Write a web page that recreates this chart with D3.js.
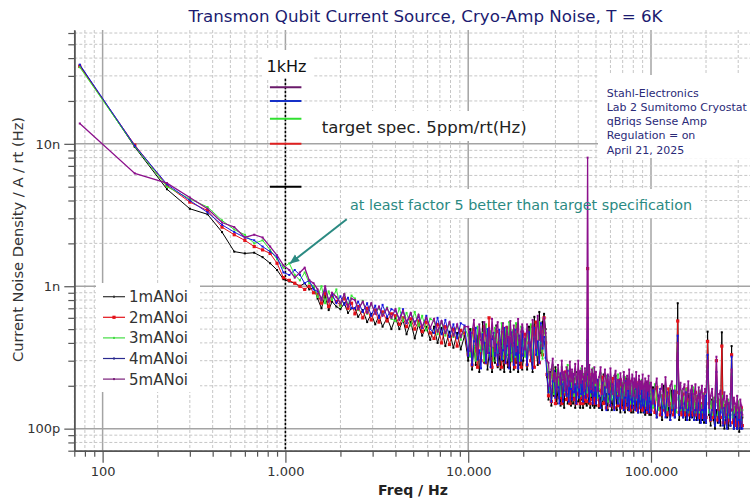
<!DOCTYPE html>
<html>
<head>
<meta charset="utf-8">
<script src="https://cdn.jsdelivr.net/npm/d3@7"></script>
<style>
  body { margin: 0; background: #fff; }
  svg { display: block; font-family: "DejaVu Sans", Verdana, sans-serif; }
</style>
</head>
<body>
<div id="chart"></div>
<script>
// frequency bins (Hz)
var freqLow = [75, 150, 225, 300, 375, 450, 525, 600, 675, 750, 825, 900, 975, 1050, 1125, 1200, 1275, 1350, 1425];
var freqMid = [1500, 1575, 1650, 1725, 1800, 1900, 2000, 2100, 2200, 2300,
  2400, 2500, 2650, 2800, 2950, 3100, 3250, 3400, 3600, 3800,
  4000, 4200, 4400, 4600, 4850, 5100, 5350, 5600, 5900, 6200,
  6500, 6800, 7150, 7500, 7900, 8300, 8700, 9100, 9550];
var freqA = [10000, 10250, 10500, 10750, 11000, 11250, 11500, 11750, 12000, 12250,
  12500, 12750, 13000, 13250, 13500, 13750, 14000, 14250, 14500, 14750,
  15000, 15250, 15500, 15750, 16000, 16250, 16500, 16750, 17000, 17250,
  17500, 17750, 18000, 18250, 18500, 18750, 19000, 19250, 19500, 19750];
var freqB = [20000, 20500, 21000, 21500, 22000, 22500, 23000, 23500, 24000, 24500,
  25000, 25500, 26000, 26500, 27000, 27500, 28000, 28500, 29000, 29500,
  30000, 30500, 31000, 31500, 32000, 32500, 33000, 33500, 34000, 34500,
  35000, 35500, 36000, 36500, 37000, 37500, 38000, 38500, 39000, 39500,
  40000, 40500, 41000, 41500, 42000, 42500, 43000, 43500, 44000, 44500,
  45000, 45500, 46000, 46500, 47000, 47500, 48000, 48500, 49000, 49500];
var freqC = [50000, 51000, 52000, 53000, 54000, 55000, 56000, 57000, 58000, 59000,
  60000, 61000, 62000, 63000, 64000, 65000, 66000, 67000, 68000, 69000,
  70000, 71000, 72000, 73000, 74000, 75000, 76000, 77000, 78000, 79000,
  80000, 81000, 82000, 83000, 84000, 85000, 86000, 87000, 88000, 89000,
  90000, 91000, 92000, 93000, 94000, 95000, 96000, 97000, 98000, 99000];
var freqD = [100000, 102500, 105000, 107500, 110000, 112500, 115000, 117500, 120000, 122500,
  125000, 127500, 130000, 132500, 135000, 137500, 140000, 142500, 145000, 147500,
  150000, 152500, 155000, 157500, 160000, 162500, 165000, 167500, 170000, 172500,
  175000, 177500, 180000, 182500, 185000, 187500, 190000, 192500, 195000, 197500];
var freqE = [200000, 204000, 208000, 212000, 216000, 220000, 224000, 228000, 232000, 236000,
  240000, 244000, 248000, 252000, 256000, 260000, 264000, 268000, 272000, 276000,
  280000, 284000, 288000, 292000, 296000, 300000, 304000, 308000, 312000, 316000];

// current noise density, pA/rt(Hz)
// 1 mA (black)
var noi1Low = [35700, 9500, 4800, 3500, 3200, 2400, 1750, 1700, 1720, 1600, 1450, 1300, 1120, 1080, 1050, 1000, 1050, 950, 980];
var noi1Mid = [820, 700, 860, 680, 780, 720, 690, 760, 650, 700,
  700, 610, 680, 560, 640, 540, 620, 520, 600, 500,
  600, 500, 580, 460, 560, 430, 540, 450, 520, 420,
  520, 400, 510, 380, 480, 370, 470, 360, 450];
var noi1A = [300, 500, 260, 380, 280, 450, 250, 340, 560, 290,
  400, 260, 330, 480, 250, 370, 290, 530, 270, 340,
  260, 420, 300, 250, 490, 330, 270, 380, 250, 460,
  320, 260, 410, 290, 540, 250, 350, 280, 420, 260];
var noi1B = [300, 420, 260, 520, 330, 250, 610, 370, 280, 660, 340, 560, 640, 500,
  230,
  160, 250, 145, 200, 170, 270, 150, 190, 230, 145,
  210, 160, 140, 240, 175, 150, 200, 260, 145, 185,
  150, 225, 140, 190, 250, 155, 170, 140, 215, 160,
  140, 240, 150, 185, 145,
  420,
  150, 195, 140, 230, 165, 145, 210, 140, 180];
var noi1C = [145, 220, 140, 165, 135, 240, 150, 175, 135, 200,
  210, 135, 160, 140, 235, 135, 180, 145, 130, 205,
  140, 180, 130, 225, 150, 135, 170, 200, 130, 160,
  130, 210, 145, 135, 180, 130, 220, 150, 130, 175,
  195, 130, 155, 125, 210, 140, 130, 185, 125, 150];
var noi1D = [125, 195, 135, 120, 170, 140, 115, 200, 130, 120,
  140, 115, 185, 135, 120, 160, 760, 115, 140, 180,
  120, 150, 115, 130, 175, 115, 140, 120, 185, 115,
  135, 115, 170, 125, 110, 150, 115, 130, 110, 160];
var noi1E = [110, 480, 125, 105, 160, 115, 100, 135, 110, 150,
  105, 475, 140, 100, 115, 155, 100, 125, 105, 380,
  125, 100, 140, 105, 100, 130, 95, 115, 100, 120];

// 2 mA (red)
var noi2Low = [35000, 9800, 5100, 3900, 3400, 2600, 2300, 2100, 1900, 1800, 1700, 1450, 1150, 1100, 1050, 1000, 950, 1000, 900];
var noi2Mid = [880, 760, 900, 720, 850, 780, 740, 820, 700, 760,
  640, 720, 600, 700, 580, 680, 560, 660, 570, 640,
  620, 540, 600, 520, 590, 500, 570, 480, 560, 470,
  430, 540, 400, 520, 390, 500, 380, 490, 470];
var noi2A = [330, 420, 280, 500, 350, 270, 460, 300, 390, 520,
  290, 360, 600, 310, 270, 440, 330, 480, 280, 400,
  350, 270, 470, 320, 290, 510, 380, 280, 430, 330,
  300, 450, 270, 360, 520, 290, 410, 330, 270, 440];
var noi2B = [330, 460, 280, 400, 300, 520, 270, 560, 350, 290, 480, 330, 600, 400,
  240,
  170, 230, 155, 260, 185, 150, 240, 200, 165, 225,
  150, 210, 175, 250, 160, 195, 230, 150, 215, 170,
  240, 160, 190, 150, 225, 175, 205, 150, 250, 165,
  150, 200, 160, 230, 155,
  1330,
  170, 215, 150, 195, 240, 160, 180, 150, 220];
var noi2C = [160, 205, 145, 185, 230, 150, 195, 140, 210, 170,
  145, 190, 225, 140, 175, 200, 145, 165, 220, 140,
  170, 205, 140, 160, 195, 145, 215, 135, 180, 150,
  195, 140, 170, 210, 135, 160, 190, 140, 175, 205,
  135, 170, 190, 140, 160, 205, 130, 175, 150, 135];
var noi2D = [135, 175, 130, 195, 150, 125, 170, 135, 185, 125,
  190, 130, 150, 125, 170, 180, 570, 130, 155, 125,
  175, 125, 145, 190, 125, 160, 130, 175, 125, 150,
  180, 125, 140, 120, 165, 125, 150, 120, 175, 130];
var noi2E = [120, 410, 150, 115, 140, 120, 155, 300, 115, 145,
  120, 380, 110, 145, 125, 110, 150, 115, 135, 330,
  110, 140, 115, 105, 145, 110, 130, 105, 140, 105];

// 3 mA (green)
var noi3Low = [34500, 9600, 5000, 4100, 3600, 2900, 2500, 2300, 2000, 2100, 1800, 1550, 1350, 1450, 1200, 1100, 1250, 1050, 1000];
var noi3Mid = [840, 1000, 760, 920, 800, 950, 720, 880, 740, 860,
  820, 680, 790, 640, 750, 650, 700, 630, 710, 590,
  570, 700, 570, 650, 530, 660, 530, 620, 490, 590,
  570, 460, 560, 450, 550, 440, 530, 420, 510];
var noi3A = [450, 320, 500, 380, 300, 520, 410, 350, 470, 300,
  540, 390, 330, 480, 360, 300, 510, 420, 340, 460,
  380, 550, 310, 440, 500, 330, 390, 560, 350, 300,
  490, 410, 320, 550, 370, 460, 300, 400, 520, 380];
var noi3B = [420, 320, 470, 360, 540, 300, 440, 380, 330, 560, 400, 310, 500, 440,
  260,
  250, 180, 230, 280, 175, 215, 260, 190, 240, 170,
  270, 205, 180, 240, 215, 280, 170, 225, 195, 250,
  210, 170, 260, 225, 185, 245, 200, 170, 265, 190,
  240, 175, 215, 255, 180,
  480,
  215, 250, 170, 230, 195, 265, 180, 220, 170];
var noi3C = [225, 165, 190, 245, 160, 210, 170, 235, 155, 200,
  230, 160, 190, 150, 215, 175, 240, 155, 195, 165,
  210, 150, 230, 180, 155, 200, 225, 150, 175, 210,
  150, 195, 220, 160, 185, 145, 210, 170, 150, 220,
  185, 150, 205, 165, 145, 195, 175, 150, 210, 160];
var noi3D = [185, 140, 205, 160, 135, 190, 150, 140, 200, 135,
  165, 190, 135, 150, 200, 130, 350, 160, 135, 185,
  165, 135, 190, 150, 130, 175, 160, 135, 195, 150,
  130, 170, 150, 130, 185, 145, 130, 175, 155, 130];
var noi3E = [160, 260, 130, 155, 125, 165, 140, 200, 125, 160,
  130, 150, 170, 120, 155, 130, 160, 120, 150, 240,
  120, 150, 125, 140, 115, 155, 125, 140, 115, 135];

// 4 mA (blue)
var noi4Low = [36000, 9700, 5200, 4000, 3300, 2700, 2400, 2200, 2100, 1900, 1750, 1600, 1250, 1200, 1300, 1200, 1050, 1100, 950];
var noi4Mid = [920, 820, 960, 800, 880, 760, 850, 740, 830, 700,
  700, 780, 660, 760, 620, 730, 600, 740, 610, 690,
  670, 590, 690, 550, 640, 560, 610, 510, 620, 500,
  470, 600, 460, 580, 440, 540, 430, 550, 530];
var noi4A = [325, 475, 280, 410, 510, 305, 355, 265, 460, 400,
  290, 500, 340, 270, 425, 470, 325, 390, 280, 495,
  415, 305, 355, 510, 290, 380, 440, 265, 340, 475,
  400, 280, 495, 330, 375, 265, 450, 400, 300, 510];
var noi4B = [325, 425, 280, 475, 355, 265, 510, 330, 410, 290, 550, 365, 440, 315,
  240,
  180, 240, 155, 215, 255, 165, 225, 195, 150, 245,
  205, 155, 235, 185, 170, 255, 155, 215, 190, 160,
  240, 180, 205, 150, 230, 195, 165, 250, 175, 215,
  155, 225, 185, 165, 240,
  600,
  200, 155, 220, 180, 210, 150, 235, 170, 195];
var noi4C = [150, 220, 170, 140, 210, 160, 195, 135, 235, 175,
  145, 205, 185, 135, 225, 165, 150, 215, 140, 190,
  200, 135, 165, 215, 145, 185, 135, 205, 160, 140,
  210, 155, 135, 190, 170, 130, 215, 155, 140, 195,
  145, 185, 130, 205, 165, 135, 190, 130, 175, 155];
var noi4D = [130, 185, 145, 120, 170, 190, 125, 160, 120, 180,
  155, 115, 135, 185, 120, 165, 450, 125, 140, 170,
  120, 150, 180, 115, 135, 165, 120, 185, 140, 115,
  135, 160, 115, 150, 175, 110, 135, 155, 115, 170];
var noi4E = [110, 330, 150, 115, 135, 155, 105, 250, 145, 110,
  130, 150, 105, 140, 120, 100, 150, 130, 105, 320,
  135, 100, 125, 140, 100, 130, 115, 100, 130, 100];

// 5 mA (purple)
var noi5Low = [13900, 6200, 5300, 4200, 3500, 2800, 2600, 2200, 2300, 2200, 1900, 1650, 1400, 1300, 1150, 1250, 1350, 1100, 1050];
var noi5Mid = [950, 800, 1000, 780, 900, 840, 760, 880, 720, 820,
  800, 690, 780, 650, 760, 640, 720, 620, 700, 600,
  690, 580, 670, 560, 650, 540, 630, 520, 600, 510,
  590, 480, 570, 470, 560, 450, 540, 440, 520];
var noi5A = [520, 350, 470, 580, 390, 330, 540, 420, 360, 560,
  450, 340, 510, 380, 590, 430, 350, 500, 560, 370,
  330, 480, 550, 400, 360, 520, 440, 340, 570, 410,
  380, 530, 460, 350, 500, 590, 420, 340, 480, 540];
var noi5B = [480, 360, 540, 400, 330, 580, 450, 370, 620, 420, 520, 380, 600, 470,
  300,
  290, 200, 260, 310, 215, 245, 190, 280, 230, 205,
  300, 220, 250, 185, 270, 235, 200, 295, 215, 260,
  190, 240, 285, 205, 225, 300, 195, 255, 210, 275,
  230, 185, 265, 215, 250,
  8000,
  200, 280, 225, 190, 260, 240, 185, 270, 210];
var noi5C = [250, 185, 230, 270, 175, 215, 260, 195, 240, 180,
  265, 200, 175, 235, 255, 185, 220, 170, 245, 205,
  180, 250, 210, 170, 235, 190, 260, 175, 215, 240,
  170, 225, 195, 250, 165, 205, 235, 175, 215, 190,
  240, 165, 200, 225, 160, 215, 185, 235, 170, 200];
var noi5D = [210, 150, 190, 225, 145, 180, 205, 150, 230, 170,
  145, 200, 215, 150, 185, 140, 400, 175, 210, 145,
  190, 205, 140, 170, 215, 145, 185, 200, 135, 175,
  205, 140, 165, 195, 135, 180, 200, 140, 170, 190];
var noi5E = [180, 300, 140, 170, 190, 130, 165, 320, 135, 175,
  185, 140, 160, 180, 125, 170, 150, 130, 175, 260,
  135, 165, 150, 125, 170, 140, 120, 160, 145, 125];

var seriesNames = ["1mANoi", "2mANoi", "3mANoi", "4mANoi", "5mANoi"];
var seriesColors = ["#000000", "#e4121a", "#33e633", "#1616e0", "#8c108c"];
var legendColors = ["#333333", "#e4121a", "#44dd44", "#2a2a90", "#7a1f7a"];
// target spec 5ppm/rt(Hz) for each current at 1 kHz, nA/rt(Hz)
var specLevels = [5, 10, 15, 20, 25];
var specColors = ["#000000", "#e02020", "#30e030", "#1530c8", "#6a1a6a"];

var xTickValues = [100, 1000, 10000, 100000];
var xTickLabels = ["100", "1.000", "10.000", "100.000"];
var yTickValues = [1e-10, 1e-9, 1e-8];
var yTickLabels = ["100p", "1n", "10n"];
var infoLines = ["Stahl-Electronics", "Lab 2 Sumitomo Cryostat", "qBriqs Sense Amp", "Regulation = on", "April 21, 2025"];

var freqs = freqLow.concat(freqMid, freqA, freqB, freqC, freqD, freqE);
var seriesValues = [
  noi1Low.concat(noi1Mid, noi1A, noi1B, noi1C, noi1D, noi1E),
  noi2Low.concat(noi2Mid, noi2A, noi2B, noi2C, noi2D, noi2E),
  noi3Low.concat(noi3Mid, noi3A, noi3B, noi3C, noi3D, noi3E),
  noi4Low.concat(noi4Mid, noi4A, noi4B, noi4C, noi4D, noi4E),
  noi5Low.concat(noi5Mid, noi5A, noi5B, noi5C, noi5D, noi5E)
];
var series = seriesValues.map(function(vals, k) {
  var pts = [];
  for (var i = 0; i < Math.min(vals.length, freqs.length); i++) {
    pts.push({f: freqs[i], v: vals[i] * 1e-12});
  }
  return {name: seriesNames[k], color: seriesColors[k], points: pts};
});

var fullWidth = 750, fullHeight = 503;
// plot area ("top" is taken on window, so own names here)
var plotLeft = 74.3, plotRight = 750, plotTop = 30, plotBottom = 450.7;

var svg = d3.select('#chart').append('svg')
  .attr('width', fullWidth)
  .attr('height', fullHeight);

var x = d3.scaleLog().domain([70, 348000]).range([plotLeft, plotRight]);
var y = d3.scaleLog().domain([70e-12, 63e-9]).range([plotBottom, plotTop]);

function isMajor(t) {
  var l = Math.log10(t);
  return Math.abs(l - Math.round(l)) < 1e-6;
}

// grid
var grid = svg.append('g');
grid.selectAll('line.v').data(x.ticks()).join('line')
  .attr('x1', function(d) { return x(d); })
  .attr('x2', function(d) { return x(d); })
  .attr('y1', plotTop).attr('y2', plotBottom)
  .attr('stroke', function(d) { return isMajor(d) ? '#a4a4a4' : '#c6c6c6'; })
  .attr('stroke-width', function(d) { return isMajor(d) ? 1.5 : 1; })
  .attr('stroke-dasharray', function(d) { return isMajor(d) ? null : '3,2'; });
grid.selectAll('line.h').data(y.ticks()).join('line')
  .attr('x1', plotLeft).attr('x2', plotRight)
  .attr('y1', function(d) { return y(d); })
  .attr('y2', function(d) { return y(d); })
  .attr('stroke', function(d) { return isMajor(d) ? '#a4a4a4' : '#c6c6c6'; })
  .attr('stroke-width', function(d) { return isMajor(d) ? 1.5 : 1; })
  .attr('stroke-dasharray', function(d) { return isMajor(d) ? null : '3,2'; });

// white boxes behind the annotations
var boxes = [[262, 50, 52, 28], [316, 111, 218, 30], [341, 189, 360, 29], [598, 75, 152, 83]];
svg.append('g').selectAll('rect').data(boxes).join('rect')
  .attr('x', function(d) { return d[0]; }).attr('y', function(d) { return d[1]; })
  .attr('width', function(d) { return d[2]; }).attr('height', function(d) { return d[3]; })
  .attr('fill', '#fff');

// axes
var xMinor = d3.axisBottom(x).tickValues(x.ticks().filter(function(d) { return !isMajor(d); }))
  .tickSize(6).tickSizeOuter(0).tickFormat('');
var xMajor = d3.axisBottom(x).tickValues(xTickValues).tickSize(12).tickSizeOuter(0).tickPadding(4)
  .tickFormat(function(d, i) { return xTickLabels[i]; });
var yMinor = d3.axisLeft(y).tickValues(y.ticks().filter(function(d) { return !isMajor(d); }))
  .tickSize(6).tickSizeOuter(0).tickFormat('');
var yMajor = d3.axisLeft(y).tickValues(yTickValues).tickSize(10).tickSizeOuter(0).tickPadding(4)
  .tickFormat(function(d, i) { return yTickLabels[i]; });

[xMinor, xMajor].forEach(function(ax) {
  svg.append('g').attr('class', 'axis').attr('transform', 'translate(0,' + plotBottom + ')').call(ax);
});
[yMinor, yMajor].forEach(function(ax) {
  svg.append('g').attr('class', 'axis').attr('transform', 'translate(' + plotLeft + ',0)').call(ax);
});
svg.selectAll('.axis path.domain').attr('stroke', '#555').attr('stroke-width', 1.5);
svg.selectAll('.axis line').attr('stroke', '#555').attr('stroke-width', 1.2);
svg.selectAll('.axis text').attr('fill', '#333').style('font-size', '13px')
  .style('font-family', '"DejaVu Sans", Verdana, sans-serif');

// 1 kHz marker line
svg.append('line')
  .attr('x1', x(1000)).attr('x2', x(1000))
  .attr('y1', 79).attr('y2', plotBottom)
  .attr('stroke', '#000').attr('stroke-width', 1.5).attr('stroke-dasharray', '2,2');

// data
svg.append('clipPath').attr('id', 'plotclip').append('rect')
  .attr('x', plotLeft).attr('y', plotTop).attr('width', plotRight - plotLeft).attr('height', plotBottom - plotTop);
var plot = svg.append('g').attr('clip-path', 'url(#plotclip)');
var line = d3.line()
  .x(function(d) { return x(d.f); })
  .y(function(d) { return y(d.v); });

series.forEach(function(s, k) {
  var g = plot.append('g');
  g.append('path')
    .datum(s.points)
    .attr('fill', 'none')
    .attr('stroke', s.color)
    .attr('stroke-width', k === 4 ? 1.3 : 1)
    .attr('d', line);
  var ms = k === 1 ? 3.2 : 2;
  g.selectAll('rect').data(s.points).join('rect')
    .attr('x', function(d) { return x(d.f) - ms / 2; })
    .attr('y', function(d) { return y(d.v) - ms / 2; })
    .attr('width', ms).attr('height', ms)
    .attr('fill', s.color);
});

// target spec levels at 1 kHz
svg.append('g').selectAll('line').data(specLevels).join('line')
  .attr('x1', x(1000) - 15.5).attr('x2', x(1000) + 16)
  .attr('y1', function(d) { return y(d * 1e-9); })
  .attr('y2', function(d) { return y(d * 1e-9); })
  .attr('stroke', function(d, i) { return specColors[i]; })
  .attr('stroke-width', 2);

svg.append('text')
  .attr('x', x(1000) + 1).attr('y', 71.5)
  .attr('text-anchor', 'middle')
  .style('font-size', '16px').attr('fill', '#111')
  .text('1kHz');

svg.append('text')
  .attr('x', 321.7).attr('y', 133.3)
  .attr('textLength', 205).attr('lengthAdjust', 'spacingAndGlyphs')
  .style('font-size', '15px').attr('fill', '#222')
  .text('target spec. 5ppm/rt(Hz)');

// info text
svg.append('g').selectAll('text').data(infoLines).join('text')
  .attr('x', 606.7)
  .attr('y', function(d, i) { return 96.7 + i * 14.2; })
  .style('font-size', '11px').attr('fill', '#2a2a78')
  .text(function(d) { return d; });

// annotation + arrow
var teal = '#2b8a82';
var defs = svg.append('defs');
defs.append('marker')
  .attr('id', 'arrowhead')
  .attr('viewBox', '0 0 10 10')
  .attr('refX', 9).attr('refY', 5)
  .attr('markerWidth', 5).attr('markerHeight', 5)
  .attr('orient', 'auto')
  .append('path').attr('d', 'M0,1 L10,5 L0,9 z').attr('fill', teal);

svg.append('text')
  .attr('x', 350).attr('y', 210)
  .attr('textLength', 342).attr('lengthAdjust', 'spacingAndGlyphs')
  .style('font-size', '13.5px').attr('fill', teal)
  .text('at least factor 5 better than target specification');

svg.append('line')
  .attr('x1', 346.7).attr('y1', 219.3)
  .attr('x2', x(1050) + 1).attr('y2', y(1.45e-9))
  .attr('stroke', teal).attr('stroke-width', 2)
  .attr('marker-end', 'url(#arrowhead)');

// legend
var legend = svg.append('g');
legend.append('rect').attr('x', 96).attr('y', 283).attr('width', 104).attr('height', 109).attr('fill', '#fff');
var items = legend.selectAll('g').data(seriesNames).join('g')
  .attr('transform', function(d, i) { return 'translate(0,' + (296.7 + i * 20.6) + ')'; });
items.append('line')
  .attr('x1', 103).attr('x2', 125).attr('y1', 0).attr('y2', 0)
  .attr('stroke', function(d, i) { return legendColors[i]; })
  .attr('stroke-width', 1.2);
items.append('rect')
  .attr('x', function(d, i) { return i === 1 ? 112.4 : 113; })
  .attr('y', function(d, i) { return i === 1 ? -1.6 : -1; })
  .attr('width', function(d, i) { return i === 1 ? 3.2 : 2; })
  .attr('height', function(d, i) { return i === 1 ? 3.2 : 2; })
  .attr('fill', function(d, i) { return legendColors[i]; });
items.append('text')
  .attr('x', 129).attr('y', 5.5)
  .style('font-size', '15px').attr('fill', '#333')
  .text(function(d) { return d; });

// titles
svg.append('text')
  .attr('x', 425.5).attr('y', 21.7)
  .attr('text-anchor', 'middle')
  .attr('textLength', 474).attr('lengthAdjust', 'spacingAndGlyphs')
  .style('font-size', '15.5px').attr('fill', '#1b1b70')
  .text('Transmon Qubit Current Source, Cryo-Amp Noise, T = 6K');

svg.append('text')
  .attr('x', 413).attr('y', 495)
  .attr('text-anchor', 'middle')
  .style('font-size', '14px').style('font-weight', 'bold').attr('fill', '#222')
  .text('Freq / Hz');

svg.append('text')
  .attr('transform', 'translate(23,239.5)rotate(-90)')
  .attr('text-anchor', 'middle')
  .attr('textLength', 245).attr('lengthAdjust', 'spacingAndGlyphs')
  .style('font-size', '14px').attr('fill', '#333')
  .text('Current Noise Density / A / rt (Hz)');
</script>
</body>
</html>
